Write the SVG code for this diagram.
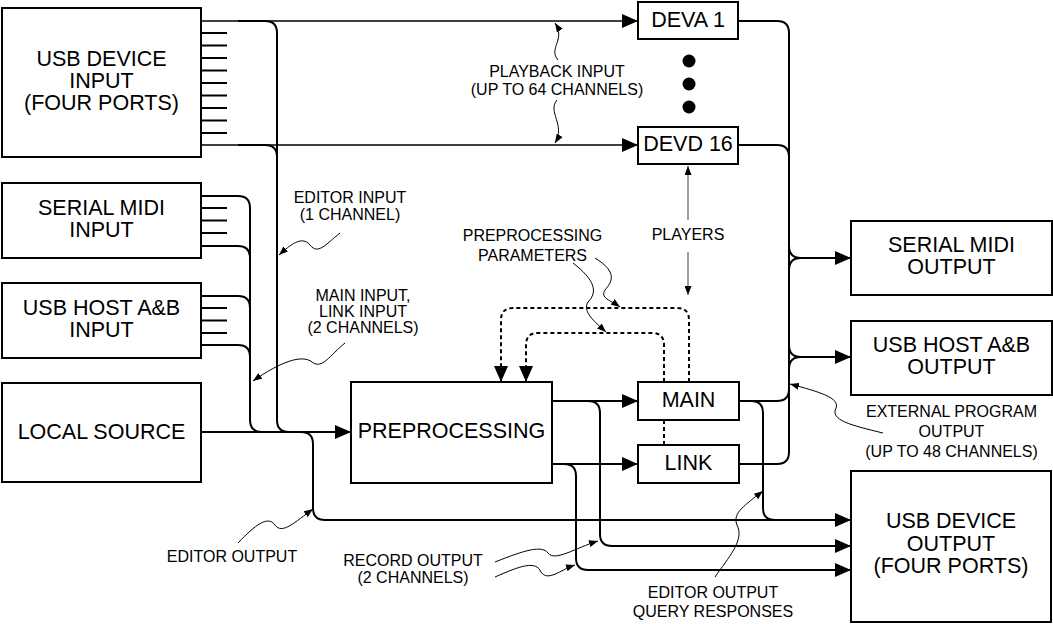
<svg xmlns="http://www.w3.org/2000/svg" width="1053" height="624" viewBox="0 0 1053 624">
<defs>
<style>
.box{fill:#fff;stroke:#000;stroke-width:2}
.lbl{font-family:"Liberation Sans",Arial,sans-serif;font-size:21.5px;text-anchor:middle;fill:#000}
.sm{font-family:"Liberation Sans",Arial,sans-serif;font-size:16px;text-anchor:middle;fill:#000}
.w{fill:none;stroke:#000;stroke-width:2}
.t{fill:none;stroke:#000;stroke-width:1.3}
.a{marker-end:url(#ah)}
.note{fill:none;stroke:#000;stroke-width:1;marker-end:url(#sa)}
.dash{fill:none;stroke:#000;stroke-width:2;stroke-dasharray:4 3;marker-end:url(#ah)}
.gray{fill:none;stroke:#808080;stroke-width:1.5;marker-end:url(#sa)}
</style>
<marker id="ah" markerUnits="userSpaceOnUse" markerWidth="16" markerHeight="14" refX="16" refY="7" orient="auto"><path d="M0,0 L16,7 L0,14 Z" fill="#000"/></marker>
<marker id="sa" markerUnits="userSpaceOnUse" markerWidth="9" markerHeight="7" refX="9" refY="3.5" orient="auto"><path d="M0,0 L9,3.5 L0,7 Z" fill="#000"/></marker>
</defs>
<rect width="1053" height="624" fill="#fff"/>

<g id="connectors">
<g class="w">
<path d="M201,33H227M201,45.5H227M201,58H227M201,70.5H227M201,83H227M201,95.5H227M201,108H227M201,120.5H227M201,133H227"/>
<path d="M201,208H227M201,220.5H227M201,233H227"/>
<path d="M201,308H227M201,320.5H227M201,333H227"/>
</g>
<path class="t a" d="M201,21H638"/>
<path class="t a" d="M201,145H638"/>
<path class="w" d="M238,21H265Q277,21 277,33V420Q277,432 289,432"/>
<path class="w" d="M238,145H265Q277,145 277,157"/>
<path class="w" d="M201,196H238Q250,196 250,208V420Q250,432 262,432"/>
<path class="w" d="M201,246H238Q250,246 250,258"/>
<path class="w" d="M201,296H238Q250,296 250,308"/>
<path class="w" d="M201,345H238Q250,345 250,357"/>
<path class="w a" d="M201,432H351"/>
<path class="w a" d="M301,432Q313,432 313,444V508Q313,520 325,520H851"/>
<path class="w a" d="M552,401H638"/>
<path class="w a" d="M552,464H638"/>
<path class="w a" d="M588,401Q600,401 600,413V534Q600,546 612,546H851"/>
<path class="w a" d="M564,464Q576,464 576,476V558Q576,570 588,570H851"/>
<path class="w" d="M738,21H777Q789,21 789,33V452Q789,464 777,464H739"/>
<path class="w" d="M738,145H777Q789,145 789,157"/>
<path class="w" d="M739,401H777Q789,401 789,389"/>
<path class="w" d="M745,401H751Q763,401 763,413V508Q763,520 775,520"/>
<path class="w a" d="M789,246Q789,258 801,258H851"/>
<path class="w" d="M789,270Q789,258 801,258"/>
<path class="w a" d="M789,345Q789,357 801,357H851"/>
<path class="w" d="M789,369Q789,357 801,357"/>
<path class="dash" d="M689,382V320Q689,308 677,308H513Q501,308 501,320V382"/>
<path class="dash" d="M664,445V345Q664,333 652,333H538Q526,333 526,345V382"/>
<path class="gray" d="M688,220V166"/>
<path class="gray" d="M688,252V295"/>
<path class="note" d="M558,60C548,48 566,40 555,23"/>
<path class="note" d="M557,100C547,112 566,125 555,143"/>
<path class="note" d="M340,233C325,245 318,255 310,245C302,235 290,245 279,255"/>
<path class="note" d="M345,343C330,355 322,370 312,362C302,354 280,362 253,381"/>
<path class="note" d="M595,258C618,272 612,282 605,290C600,298 610,300 620,307"/>
<path class="note" d="M573,263C595,280 598,292 588,302C582,312 595,322 606,332"/>
<path class="note" d="M883,433C850,425 830,420 836,408C840,398 820,392 790,384"/>
<path class="note" d="M238,543C255,525 268,515 275,525C282,535 295,522 313,509"/>
<path class="note" d="M495,562C525,550 542,545 548,553C555,562 575,548 598,541"/>
<path class="note" d="M495,577C520,566 536,560 541,572C548,582 560,570 575,565"/>
<path class="note" d="M715,577C728,558 745,540 737,525C732,513 745,505 763,491"/>
</g>

<g id="usb-device-input"><rect class="box" x="2" y="8" width="199" height="149"/><text class="lbl" x="101.5" y="66">USB DEVICE</text><text class="lbl" x="101.5" y="88">INPUT</text><text class="lbl" x="101.5" y="110">(FOUR PORTS)</text></g>
<g id="serial-midi-input"><rect class="box" x="2" y="183" width="199" height="75"/><text class="lbl" x="101.5" y="215">SERIAL MIDI</text><text class="lbl" x="101.5" y="237">INPUT</text></g>
<g id="usb-host-input"><rect class="box" x="2" y="283" width="199" height="75"/><text class="lbl" x="101.5" y="315">USB HOST A&amp;B</text><text class="lbl" x="101.5" y="337">INPUT</text></g>
<g id="local-source"><rect class="box" x="2" y="383" width="199" height="99"/><text class="lbl" x="101.5" y="438.5">LOCAL SOURCE</text></g>
<g id="preprocessing"><rect class="box" x="351" y="382" width="201" height="101"/><text class="lbl" x="451.5" y="437.5">PREPROCESSING</text></g>
<g id="deva1"><rect class="box" x="638" y="2" width="100" height="37"/><text class="lbl" x="688" y="26.5">DEVA 1</text></g>
<g id="dots"><circle cx="689" cy="61" r="6.5"/><circle cx="689" cy="84" r="6.5"/><circle cx="689" cy="107" r="6.5"/></g>
<g id="devd16"><rect class="box" x="638" y="127" width="100" height="37"/><text class="lbl" x="688" y="151">DEVD 16</text></g>
<g id="main"><rect class="box" x="638" y="382" width="101" height="38"/><text class="lbl" x="688.5" y="407">MAIN</text></g>
<g id="link"><rect class="box" x="638" y="445" width="101" height="38"/><text class="lbl" x="688.5" y="469.5">LINK</text></g>
<g id="serial-midi-output"><rect class="box" x="851" y="221" width="201" height="74"/><text class="lbl" x="951.5" y="252">SERIAL MIDI</text><text class="lbl" x="951.5" y="274">OUTPUT</text></g>
<g id="usb-host-output"><rect class="box" x="851" y="321" width="201" height="74"/><text class="lbl" x="951.5" y="352">USB HOST A&amp;B</text><text class="lbl" x="951.5" y="374">OUTPUT</text></g>
<g id="usb-device-output"><rect class="box" x="851" y="471" width="200" height="151"/><text class="lbl" x="951" y="528">USB DEVICE</text><text class="lbl" x="951" y="550.5">OUTPUT</text><text class="lbl" x="951" y="573">(FOUR PORTS)</text></g>

<g id="labels">
<text class="sm" x="557" y="77">PLAYBACK INPUT</text><text class="sm" x="557" y="95">(UP TO 64 CHANNELS)</text>
<text class="sm" x="688" y="240">PLAYERS</text>
<text class="sm" x="350" y="203">EDITOR INPUT</text><text class="sm" x="350" y="220">(1 CHANNEL)</text>
<text class="sm" x="363" y="301">MAIN INPUT,</text><text class="sm" x="363" y="317">LINK INPUT</text><text class="sm" x="363" y="333">(2 CHANNELS)</text>
<text class="sm" x="532.5" y="240.5">PREPROCESSING</text><text class="sm" x="532.5" y="261">PARAMETERS</text>
<text class="sm" x="951.5" y="417">EXTERNAL PROGRAM</text><text class="sm" x="951.5" y="437">OUTPUT</text><text class="sm" x="951.5" y="457">(UP TO 48 CHANNELS)</text>
<text class="sm" x="232" y="561.5">EDITOR OUTPUT</text>
<text class="sm" x="413" y="566">RECORD OUTPUT</text><text class="sm" x="413" y="582.5">(2 CHANNELS)</text>
<text class="sm" x="713" y="598">EDITOR OUTPUT</text><text class="sm" x="713" y="616.5">QUERY RESPONSES</text>
</g>
</svg>
